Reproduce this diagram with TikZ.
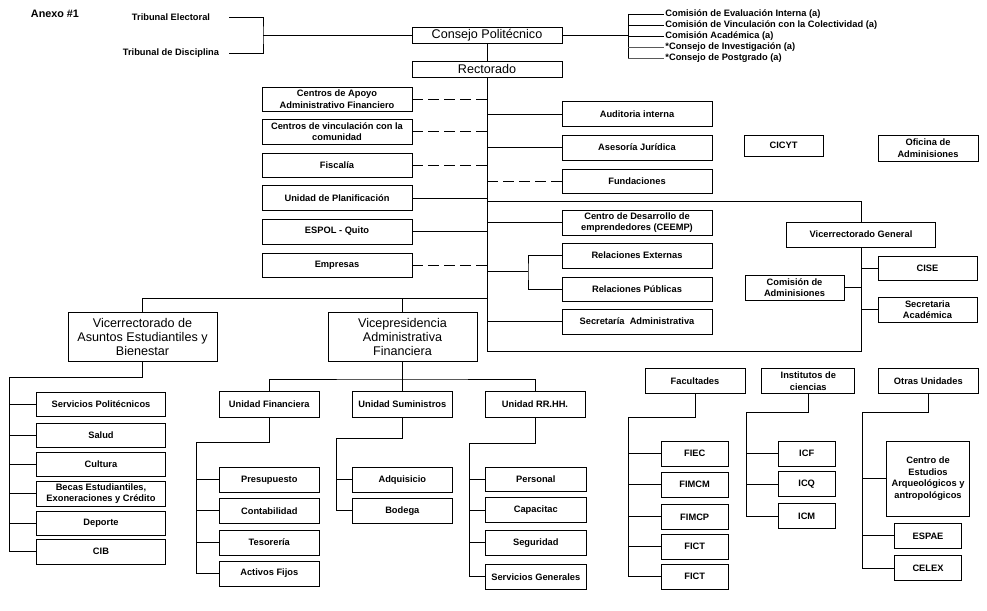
\documentclass[tikz,border=0pt]{standalone}
\usepackage{fontspec}
\setmainfont{Liberation Sans}
\newcommand\boxfont{\fontsize{9.3}{11.5}\selectfont\bfseries}
\newcommand\headfont{\fontsize{12.6}{14}\selectfont}
\tikzset{
  unit/.style={draw, fill=white, align=center, font=\boxfont, inner sep=0pt,
    minimum width=150pt, minimum height=25pt},
  head/.style={unit, font=\headfont},
  plaintext/.style={font=\boxfont, inner sep=1pt},
  dashlink/.style={dash pattern=on 11pt off 5pt}
}

\begin{document}
\begin{tikzpicture}[x=1pt,y=-1pt,line width=0.9pt]
\useasboundingbox (0,0) rectangle (987,610);
% title and tribunals
\node[plaintext, font=\fontsize{10.8}{13}\selectfont\bfseries] (anexo) at (55,14) {Anexo \#1};
\node[plaintext] (electoral) at (171,17) {Tribunal Electoral};
\node[plaintext] (disciplina) at (171,53) {Tribunal de Disciplina};
% consejo and rectorado
\node[head, minimum height=16pt] (consejo) at (487,35) {Consejo Politécnico};
\node[head, minimum height=16pt] (rector) at (487,69) {Rectorado};
\coordinate (tribx) at (229,35);
\coordinate (tribj) at (263,35);
\draw (electoral -| tribx) -| (tribj) |- (disciplina -| tribx);
\draw (tribj) -- (consejo);
% comisiones
\node[plaintext, anchor=west] (com1) at (664,14) {Comisión de Evaluación Interna (a)};
\node[plaintext, anchor=west] (com2) at (664,25) {Comisión de Vinculación con la Colectividad (a)};
\node[plaintext, anchor=west] (com3) at (664,36) {Comisión Académica (a)};
\node[plaintext, anchor=west] (com4) at (664,47) {*Consejo de Investigación (a)};
\node[plaintext, anchor=west] (com5) at (664,58) {*Consejo de Postgrado (a)};
\coordinate (comj) at (628,35);
\draw (consejo) -- (comj);
\draw (comj |- com1) -- (comj |- com5);
\draw (comj |- com1) -- (com1);
\draw (comj |- com2) -- (com2);
\draw (comj |- com3) -- (com3);
\draw[black!65] (comj |- com4) -- (com4);
\draw[black!65] (comj |- com5) -- (com5);
% spine and frame
\coordinate (spbot) at (487,351);
\draw (consejo) -- (rector);
\draw (rector) -- (spbot);
\draw (spbot) rectangle (861,201);
% left staff units
\node[unit, minimum height=24pt] (apoyo) at (337,99) {Centros de Apoyo\\Administrativo Financiero};
\node[unit] (vinculo) at (337,131.5) {Centros de vinculación con la\\comunidad};
\node[unit, minimum height=24pt] (fiscalia) at (337,165) {Fiscalía};
\node[unit] (planif) at (337,198) {Unidad de Planificación};
\node[unit] (quito) at (337,231.5) {ESPOL - Quito};
\node[unit, minimum height=24pt] (empresas) at (337,265) {Empresas};
\draw[dashlink] (apoyo) -- (apoyo -| rector);
\draw[dashlink] (vinculo) -- (vinculo -| rector);
\draw[dashlink] (fiscalia) -- (fiscalia -| rector);
\draw (planif) -- (planif -| rector);
\draw (quito) -- (quito -| rector);
\draw[dashlink] (empresas) -- (empresas -| rector);
% right staff units
\node[unit] (auditoria) at (637,114) {Auditoria interna};
\node[unit] (asesoria) at (637,147.5) {Asesoría Jurídica};
\node[unit, minimum height=24pt] (fundacion) at (637,181) {Fundaciones};
\draw (auditoria -| rector) -- (auditoria);
\draw (asesoria -| rector) -- (asesoria);
\draw[dashlink] (fundacion -| rector) -- (fundacion);
\node[unit, minimum width=79pt, minimum height=21pt] (cicyt) at (783.5,145.5) {CICYT};
\node[unit, minimum width=100pt, minimum height=26pt] (oficina) at (928,148) {Oficina de\\Adminisiones};
% inside the frame
\node[unit] (ceemp) at (637,222.5) {Centro de Desarrollo de\\emprendedores (CEEMP)};
\node[unit] (externas) at (637,255.5) {Relaciones Externas};
\node[unit, minimum height=24pt] (publicas) at (637,289) {Relaciones Públicas};
\node[unit] (secadm) at (637,321.5) {Secretaría~ Administrativa};
\draw (ceemp -| rector) -- (ceemp);
\coordinate (relj) at (528,271);
\draw (relj -| rector) -- (relj);
\draw (externas.west) -| (relj) |- (publicas.west);
\draw (secadm -| rector) -- (secadm);
\node[unit, minimum width=149pt] (vicegen) at (861,234.5) {Vicerrectorado General};
\node[unit, minimum width=99pt, minimum height=24pt] (cise) at (927.5,268) {CISE};
\node[unit, minimum width=99pt] (secacad) at (927.5,309.5) {Secretaria\\Académica};
\node[unit, minimum width=99pt] (comadm) at (794.5,287.5) {Comisión de\\Adminisiones};
\draw (cise -| vicegen) -- (cise);
\draw (secacad -| vicegen) -- (secacad);
\draw (comadm) -- (comadm -| vicegen);
% vicerrectorados
\node[head, minimum width=149pt, minimum height=49pt] (vaeb) at (142.5,336.5) {Vicerrectorado de\\Asuntos Estudiantiles y\\Bienestar};
\node[head, minimum width=149pt, minimum height=49pt] (vaf) at (402.5,336.5) {Vicepresidencia\\Administrativa\\Financiera};
\coordinate (vicej) at (487,298);
\draw (vicej) -| (vaeb.north);
\draw (vaf.north) -- (vaf.north |- vicej);
% asuntos estudiantiles
\node[unit, minimum width=129pt, minimum height=24pt] (servpol) at (101,404) {Servicios Politécnicos};
\node[unit, minimum width=129pt, minimum height=24pt] (salud) at (101,435) {Salud};
\node[unit, minimum width=129pt, minimum height=24pt] (cultura) at (101,464.5) {Cultura};
\node[unit, minimum width=129pt] (becas) at (101,493.7) {Becas Estudiantiles,\\Exoneraciones y Crédito};
\node[unit, minimum width=129pt, minimum height=24pt] (deporte) at (101,523) {Deporte};
\node[unit, minimum width=129pt] (cib) at (101,551.5) {CIB};
\coordinate (vaebj) at (9,377);
\draw (vaeb.south) |- (vaebj) -- (vaebj |- cib);
\draw (vaebj |- servpol) -- (servpol);
\draw (vaebj |- salud) -- (salud);
\draw (vaebj |- cultura) -- (cultura);
\draw (vaebj |- becas) -- (becas);
\draw (vaebj |- deporte) -- (deporte);
\draw (vaebj |- cib) -- (cib);
% unidades administrativas
\node[unit, minimum width=100pt, minimum height=26pt] (ufin) at (269.3,404) {Unidad Financiera};
\node[unit, minimum width=100pt, minimum height=26pt] (usum) at (402.3,404) {Unidad Suministros};
\node[unit, minimum width=100pt, minimum height=26pt] (urrhh) at (535,404) {Unidad RR.HH.};
\coordinate (vafj) at (402.3,379);
\draw (vaf.south) -- (vaf.south |- vafj);
\draw (ufin.north) |- (vafj) -| (urrhh.north);
\draw (usum.north) -- (usum.north |- vafj);
% financiera
\node[unit, minimum width=100pt] (presup) at (269.3,479.8) {Presupuesto};
\node[unit, minimum width=100pt] (contab) at (269.3,510.8) {Contabilidad};
\node[unit, minimum width=100pt] (tesor) at (269.3,542.5) {Tesorería};
\node[unit, minimum width=100pt] (activos) at (269.3,573.5) {Activos Fijos};
\coordinate (ufinj) at (196,442);
\draw (ufin.south) |- (ufinj) -- (ufinj |- activos);
\draw (ufinj |- presup) -- (presup);
\draw (ufinj |- contab) -- (contab);
\draw (ufinj |- tesor) -- (tesor);
\draw (ufinj |- activos) -- (activos);
% suministros
\node[unit, minimum width=100pt] (adquis) at (402.3,479.8) {Adquisicio};
\node[unit, minimum width=100pt] (bodega) at (402.3,510.8) {Bodega};
\coordinate (usumj) at (336,438);
\draw (usum.south) |- (usumj) -- (usumj |- bodega);
\draw (usumj |- adquis) -- (adquis);
\draw (usumj |- bodega) -- (bodega);
% recursos humanos
\node[unit, minimum width=101.7pt, minimum height=24.5pt] (personal) at (535.8,479.5) {Personal};
\node[unit, minimum width=101.7pt, minimum height=24.5pt] (capacit) at (535.8,510) {Capacitac};
\node[unit, minimum width=101.7pt, minimum height=24.5pt] (segur) at (535.8,542.7) {Seguridad};
\node[unit, minimum width=101.7pt] (servgen) at (535.8,576.7) {Servicios Generales};
\coordinate (urrhhj) at (469,443);
\draw (urrhh.south) |- (urrhhj) -- (urrhhj |- servgen);
\draw (urrhhj |- personal) -- (personal);
\draw (urrhhj |- capacit) -- (capacit);
\draw (urrhhj |- segur) -- (segur);
\draw (urrhhj |- servgen) -- (servgen);
% academic units
\node[unit, minimum width=100pt] (facult) at (695,381) {Facultades};
\node[unit, minimum width=93pt] (instit) at (808.3,381) {Institutos de\\ciencias};
\node[unit, minimum width=100pt] (otras) at (928.3,381) {Otras Unidades};
% facultades
\node[unit, minimum width=67pt] (fiec) at (694.7,453.5) {FIEC};
\node[unit, minimum width=67pt] (fimcm) at (694.7,484.7) {FIMCM};
\node[unit, minimum width=67pt] (fimcp) at (694.7,516.8) {FIMCP};
\node[unit, minimum width=67pt] (fict) at (694.7,546.5) {FICT};
\node[unit, minimum width=67pt] (fictb) at (694.7,576.7) {FICT};
\coordinate (facj) at (628,417);
\draw (facult.south) |- (facj) -- (facj |- fictb);
\draw (facj |- fiec) -- (fiec);
\draw (facj |- fimcm) -- (fimcm);
\draw (facj |- fimcp) -- (fimcp);
\draw (facj |- fict) -- (fict);
\draw (facj |- fictb) -- (fictb);
% institutos
\node[unit, minimum width=57pt] (icf) at (806.7,453.5) {ICF};
\node[unit, minimum width=57pt] (icq) at (806.7,484) {ICQ};
\node[unit, minimum width=57pt] (icm) at (806.7,516) {ICM};
\coordinate (instj) at (746,412);
\draw (instit.south) |- (instj) -- (instj |- icm);
\draw (instj |- icf) -- (icf);
\draw (instj |- icq) -- (icq);
\draw (instj |- icm) -- (icm);
% otras unidades
\node[unit, minimum width=83pt, minimum height=75pt] (estudios) at (928,478.5) {Centro de\\Estudios\\Arqueológicos y\\antropológicos};
\node[unit, minimum width=67pt] (espae) at (928,535.8) {ESPAE};
\node[unit, minimum width=67pt] (celex) at (928,568.2) {CELEX};
\coordinate (otrj) at (862,412);
\draw (otras.south) |- (otrj) -- (otrj |- celex);
\draw (otrj |- estudios) -- (estudios);
\draw (otrj |- espae) -- (espae);
\draw (otrj |- celex) -- (celex);
\end{tikzpicture}
\end{document}
